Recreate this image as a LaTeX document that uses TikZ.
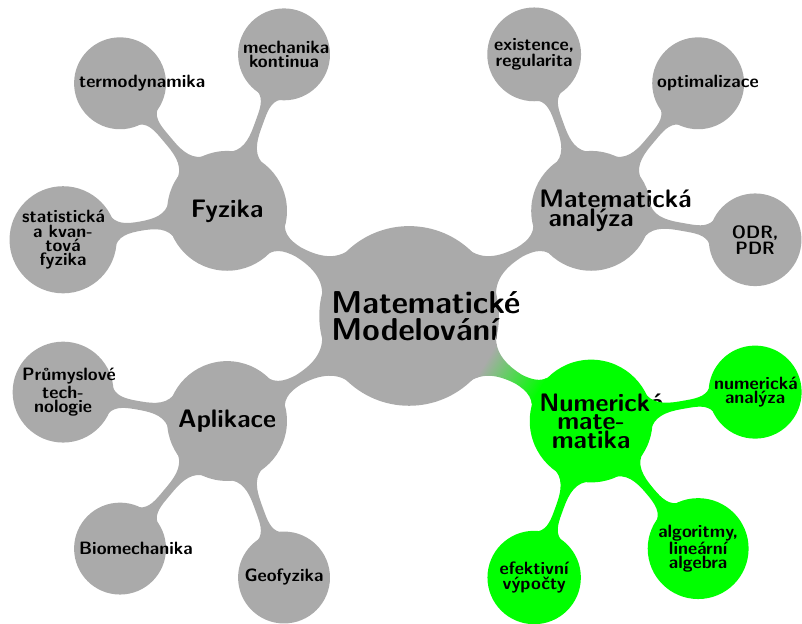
\documentclass[tikz,border=0pt]{standalone}
\usetikzlibrary{mindmap}
\definecolor{mmgray}{RGB}{170,170,170}
\definecolor{mmgreen}{RGB}{0,255,0}
\tikzset{
  root font/.style={font=\sffamily\bfseries\fontsize{20}{17}\selectfont},
  topic font/.style={font=\sffamily\bfseries\fontsize{16}{11.6}\selectfont},
  leaf font/.style={font=\sffamily\bfseries\fontsize{11.3}{9}\selectfont}
}
\begin{document}
\begin{tikzpicture}[mindmap, concept color=mmgray, text=black,
    every node/.style={concept},
    root concept/.append style={minimum size=3.95cm, text width=3.45cm, root font},
    level 1/.append style={level distance=4.67cm},
    level 1 concept/.append style={minimum size=2.62cm, text width=2.3cm, topic font},
    level 2/.append style={level distance=3.7cm},
    level 2 concept/.append style={minimum size=2cm, text width=1.82cm, leaf font}]
  \useasboundingbox (-9.09,-6.84) rectangle (8.73,7.02);
  \node[root concept] (model) {Matematické\\ Modelování}
    % Fyzika
    child[grow=150] {node (fyzika) {Fyzika}
      child[grow=190] {node (statfyz) {statistická\\ a kvan-\\ tová\\ fyzika}}
      child[grow=130] {node (termo) {termodynamika}}
      child[grow=70] {node (mechanika) {mechanika\\ kontinua}}
    }
    % Matematicka analyza
    child[grow=30] {node (analyza) {Matematická\\ analýza}
      child[grow=110] {node (existence) {existence,\\ regularita}}
      child[grow=50] {node (optim) {optimalizace}}
      child[grow=-10] {node (odr) {ODR,\\ PDR}}
    }
    % Aplikace
    child[grow=210] {node (aplikace) {Aplikace}
      child[grow=170] {node (prumysl) {Průmyslové\\ tech-\\ nologie}}
      child[grow=230] {node (biomech) {Biomechanika}}
      child[grow=290] {node (geofyz) {Geofyzika}}
    }
    % Numericka matematika
    child[grow=-30, concept color=mmgreen] {node (numerika) {Numerická\\ mate-\\ matika}
      child[grow=10] {node (numan) {numerická\\ analýza}}
      child[grow=-50] {node (algo) {algoritmy,\\ lineární\\ algebra}}
      child[grow=-110] {node (vypocty) {efektivní\\ výpočty}}
    };
\end{tikzpicture}
\end{document}
